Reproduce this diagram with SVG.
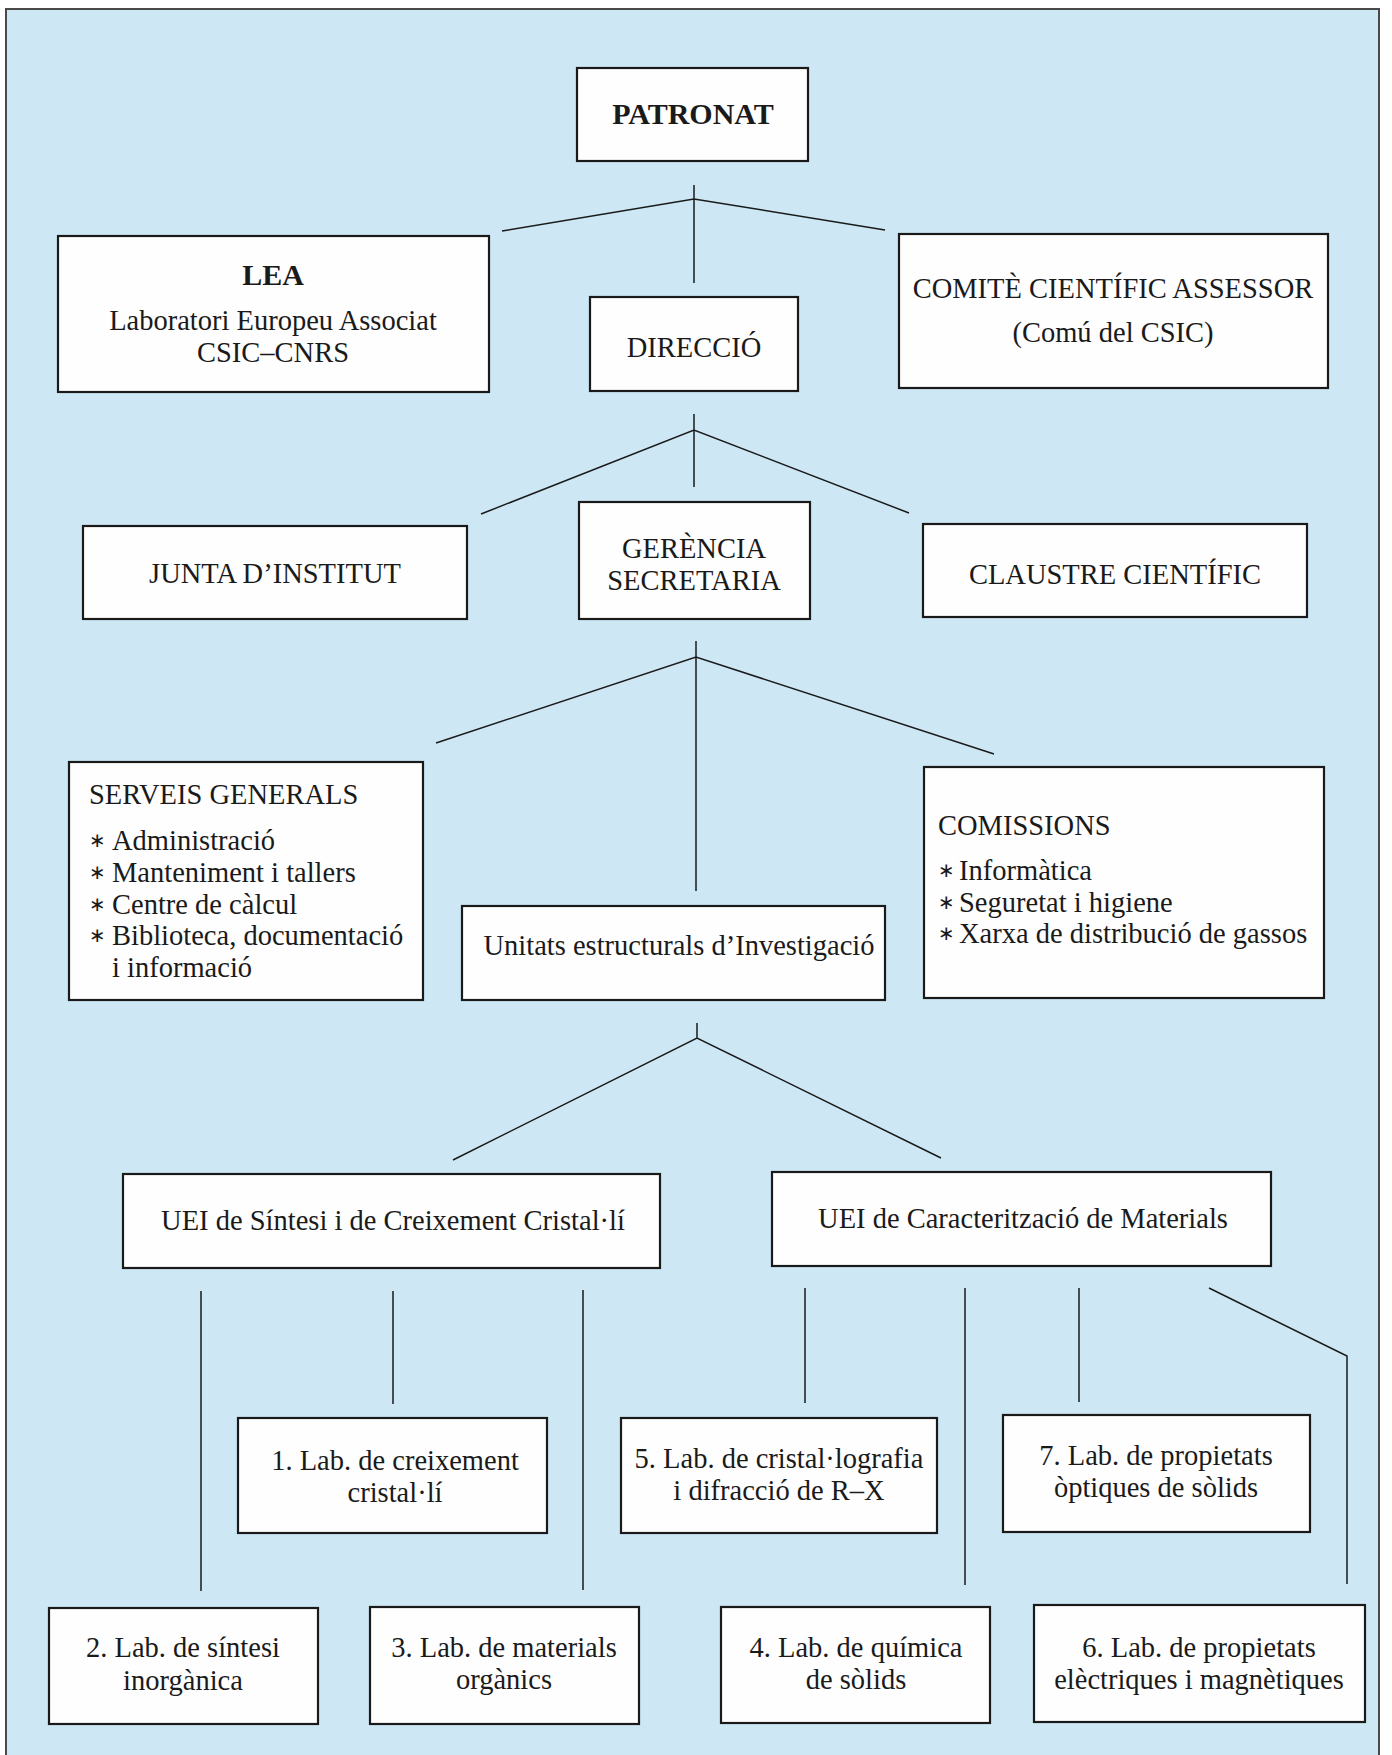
<svg xmlns="http://www.w3.org/2000/svg" width="1392" height="1755" viewBox="0 0 1392 1755">
<style>
.frame{fill:#cde8f4;stroke:#4a4a4a;stroke-width:2}
.box{fill:#fefefe;stroke:#1a1a1a;stroke-width:2.2}
.t{font-family:"Liberation Serif","Times New Roman",serif;font-size:28.5px;fill:#1a1a1a}
.c{text-anchor:middle}
.b{font-weight:bold;font-size:30px}
.bul{font-family:"DejaVu Sans",sans-serif;font-size:20px;fill:#1a1a1a}
.conn path{stroke:#1a1a1a;stroke-width:1.5;fill:none}
</style>
<rect x="0" y="0" width="1392" height="1755" fill="#ffffff"/>
<rect class="frame" x="6" y="9" width="1373" height="1760"/>

<g id="connectors" class="conn">
<path d="M694,185 V283 M502,231 L694,199 L885,230"/>
<path d="M694,414 V487 M481,514 L694,430 L909,513"/>
<path d="M696,641 V891 M436,743 L696,657 L994,754"/>
<path d="M697,1023 V1038 M453,1160 L697,1038 L941,1158"/>
<path d="M201,1291 V1591 M393,1291 V1404 M583,1290 V1590"/>
<path d="M805,1288 V1403 M965,1288 V1585 M1079,1288 V1402 M1209,1288 L1347,1356 V1584"/>
</g>

<g id="patronat">
<rect class="box" x="577" y="68" width="231" height="93"/>
<text class="t c b" x="693" y="124">PATRONAT</text>
</g>
<g id="lea">
<rect class="box" x="58" y="236" width="431" height="156"/>
<text class="t c b" x="273" y="285">LEA</text>
<text class="t c" x="273" y="330">Laboratori Europeu Associat</text>
<text class="t c" x="273" y="362">CSIC–CNRS</text>
</g>
<g id="direccio">
<rect class="box" x="590" y="297" width="208" height="94"/>
<text class="t c" x="694" y="357">DIRECCIÓ</text>
</g>
<g id="comite">
<rect class="box" x="899" y="234" width="429" height="154"/>
<text class="t c" x="1113" y="298">COMITÈ CIENTÍFIC ASSESSOR</text>
<text class="t c" x="1113" y="342">(Comú del CSIC)</text>
</g>
<g id="junta">
<rect class="box" x="83" y="526" width="384" height="93"/>
<text class="t c" x="275" y="583">JUNTA D’INSTITUT</text>
</g>
<g id="gerencia">
<rect class="box" x="579" y="502" width="231" height="117"/>
<text class="t c" x="694" y="558">GERÈNCIA</text>
<text class="t c" x="694" y="590">SECRETARIA</text>
</g>
<g id="claustre">
<rect class="box" x="923" y="524" width="384" height="93"/>
<text class="t c" x="1115" y="584">CLAUSTRE CIENTÍFIC</text>
</g>
<g id="serveis">
<rect class="box" x="69" y="762" width="354" height="238"/>
<text class="t" x="89" y="804">SERVEIS GENERALS</text>
<text class="bul" x="89" y="847">∗</text>
<text class="bul" x="89" y="879">∗</text>
<text class="bul" x="89" y="911">∗</text>
<text class="bul" x="89" y="942">∗</text>
<text class="t" x="112" y="850">Administració</text>
<text class="t" x="112" y="882">Manteniment i tallers</text>
<text class="t" x="112" y="914">Centre de càlcul</text>
<text class="t" x="112" y="945">Biblioteca, documentació</text>
<text class="t" x="112" y="977">i informació</text>
</g>
<g id="unitats">
<rect class="box" x="462" y="906" width="423" height="94"/>
<text class="t c" x="679" y="955">Unitats estructurals d’Investigació</text>
</g>
<g id="comissions">
<rect class="box" x="924" y="767" width="400" height="231"/>
<text class="t" x="938" y="835">COMISSIONS</text>
<text class="bul" x="938" y="877">∗</text>
<text class="bul" x="938" y="909">∗</text>
<text class="bul" x="938" y="940">∗</text>
<text class="t" x="959" y="880">Informàtica</text>
<text class="t" x="959" y="912">Seguretat i higiene</text>
<text class="t" x="959" y="943">Xarxa de distribució de gassos</text>
</g>
<g id="uei-sintesi">
<rect class="box" x="123" y="1174" width="537" height="94"/>
<text class="t c" x="393" y="1230">UEI de Síntesi i de Creixement Cristal·lí</text>
</g>
<g id="uei-caracteritzacio">
<rect class="box" x="772" y="1172" width="499" height="94"/>
<text class="t c" x="1023" y="1228">UEI de Caracterització de Materials</text>
</g>
<g id="lab1">
<rect class="box" x="238" y="1418" width="309" height="115"/>
<text class="t c" x="395" y="1470">1. Lab. de creixement</text>
<text class="t c" x="395" y="1502">cristal·lí</text>
</g>
<g id="lab5">
<rect class="box" x="621" y="1418" width="316" height="115"/>
<text class="t c" x="779" y="1468">5. Lab. de cristal·lografia</text>
<text class="t c" x="779" y="1500">i difracció de R–X</text>
</g>
<g id="lab7">
<rect class="box" x="1003" y="1415" width="307" height="117"/>
<text class="t c" x="1156" y="1465">7. Lab. de propietats</text>
<text class="t c" x="1156" y="1497">òptiques de sòlids</text>
</g>
<g id="lab2">
<rect class="box" x="49" y="1608" width="269" height="116"/>
<text class="t c" x="183" y="1657">2. Lab. de síntesi</text>
<text class="t c" x="183" y="1690">inorgànica</text>
</g>
<g id="lab3">
<rect class="box" x="370" y="1607" width="269" height="117"/>
<text class="t c" x="504" y="1657">3. Lab. de materials</text>
<text class="t c" x="504" y="1689">orgànics</text>
</g>
<g id="lab4">
<rect class="box" x="721" y="1607" width="269" height="116"/>
<text class="t c" x="856" y="1657">4. Lab. de química</text>
<text class="t c" x="856" y="1689">de sòlids</text>
</g>
<g id="lab6">
<rect class="box" x="1034" y="1605" width="331" height="117"/>
<text class="t c" x="1199" y="1657">6. Lab. de propietats</text>
<text class="t c" x="1199" y="1689">elèctriques i magnètiques</text>
</g>
</svg>
